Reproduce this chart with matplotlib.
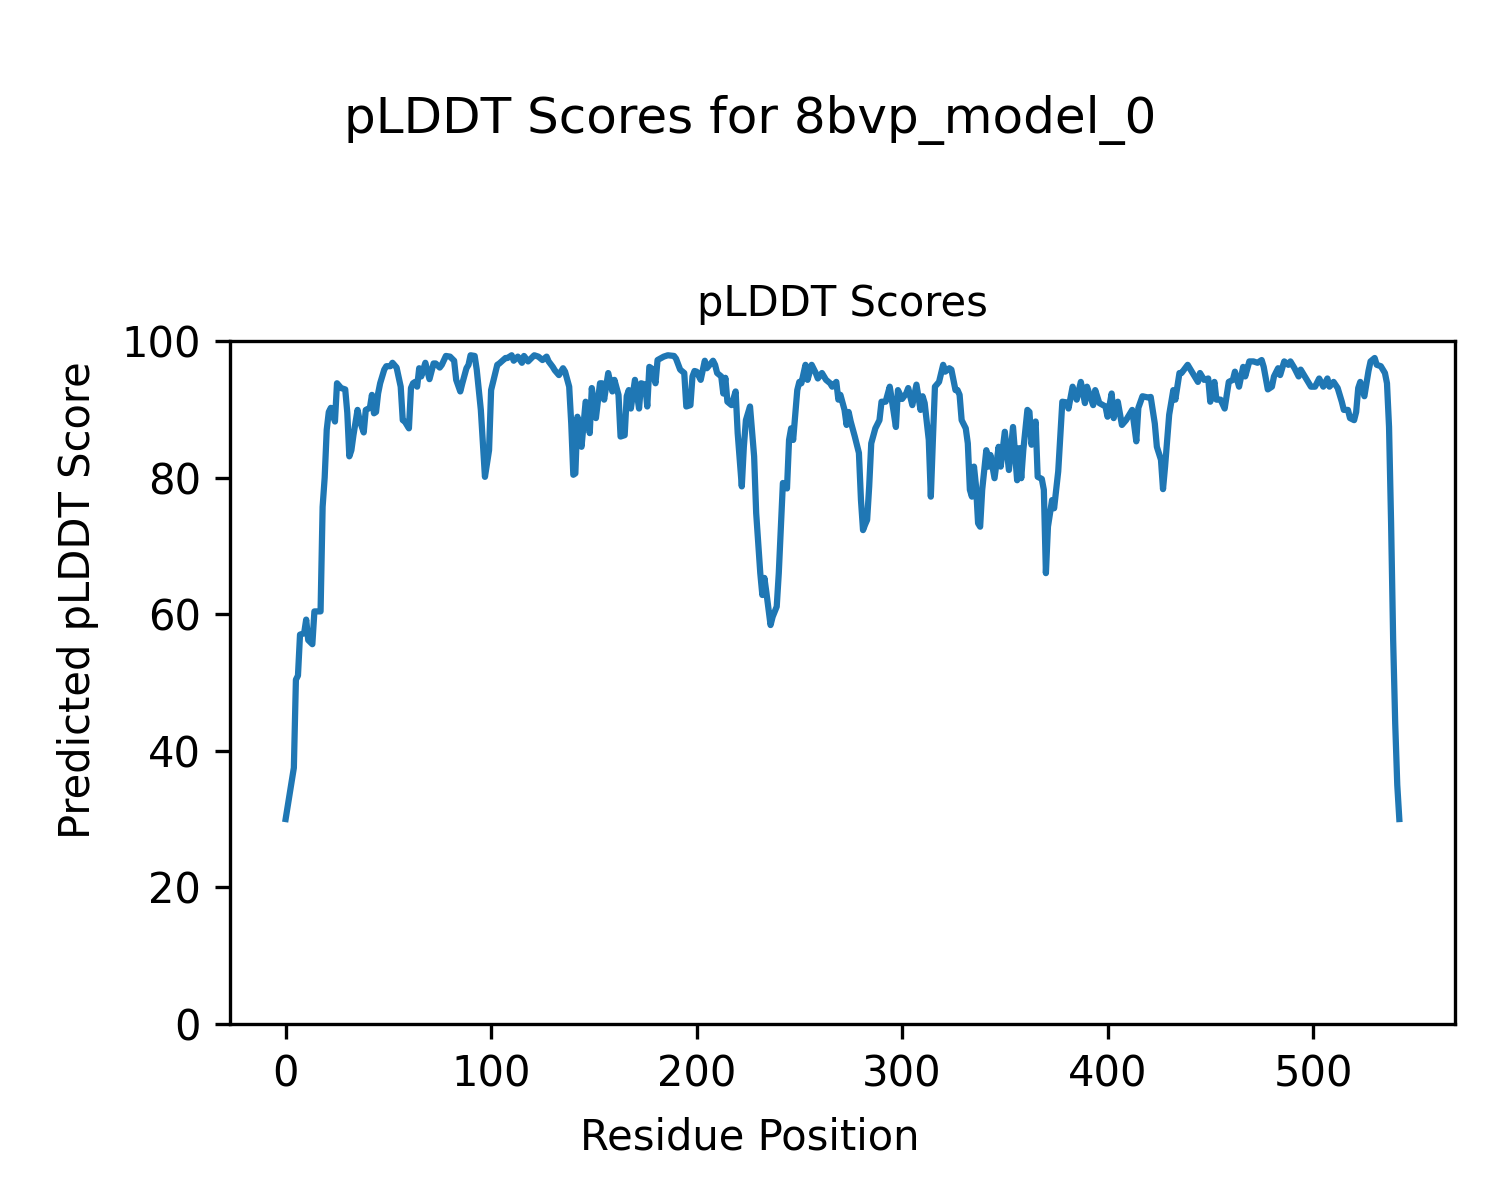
import matplotlib
matplotlib.use("Agg")
import matplotlib.pyplot as plt

residues = [0, 4, 5, 6, 7, 9, 10, 11, 13, 14, 17, 18, 19, 20, 21, 22, 24, 25, 27, 29,
            30, 31, 32, 33, 35, 36, 38, 39, 41, 42, 43, 44, 45, 46, 48, 49, 51, 52, 54, 56,
            57, 58, 60, 61, 62, 63, 64, 65, 66, 68, 70, 72, 73, 75, 76, 78, 80, 82, 83, 85,
            86, 88, 89, 90, 92, 93, 95, 97, 98, 99, 100, 103, 104, 107, 108, 110, 111, 113, 115, 116,
            118, 121, 123, 125, 127, 128, 130, 131, 133, 135, 136, 138, 139, 140, 141, 142, 143, 144, 146, 147,
            148, 149, 151, 153, 154, 155, 157, 159, 160, 162, 163, 165, 166, 167, 168, 170, 172, 173, 175, 176,
            177, 178, 180, 181, 184, 186, 189, 190, 192, 194, 195, 197, 198, 199, 200, 202, 204, 205, 208, 209,
            210, 212, 213, 214, 215, 217, 219, 220, 222, 223, 224, 226, 228, 229, 231, 232, 233, 234, 236, 237,
            239, 240, 242, 244, 245, 246, 247, 249, 250, 251, 253, 254, 256, 258, 259, 261, 263, 265, 266, 268,
            269, 270, 272, 273, 274, 275, 277, 279, 280, 281, 282, 283, 284, 285, 287, 289, 290, 292, 294, 295,
            297, 298, 300, 302, 303, 305, 307, 309, 310, 311, 313, 314, 315, 316, 318, 320, 321, 323, 324, 326,
            327, 328, 329, 331, 332, 333, 334, 335, 336, 337, 338, 339, 341, 342, 343, 345, 347, 348, 350, 352,
            354, 356, 357, 358, 359, 361, 362, 363, 365, 366, 368, 369, 370, 371, 373, 374, 376, 378, 380, 381,
            383, 385, 387, 389, 390, 393, 394, 396, 399, 400, 402, 403, 405, 407, 409, 411, 412, 414, 415, 417,
            420, 421, 423, 424, 426, 427, 428, 430, 432, 433, 435, 436, 439, 441, 442, 444, 445, 447, 449, 450,
            452, 453, 455, 457, 459, 461, 462, 464, 466, 467, 469, 471, 473, 475, 476, 478, 480, 481, 483, 484,
            486, 488, 489, 491, 493, 494, 497, 499, 501, 503, 505, 507, 508, 510, 512, 514, 515, 517, 518, 520,
            521, 522, 523, 525, 527, 528, 530, 531, 533, 535, 536, 537, 538, 539, 540, 541, 542]

plddt = [30.0, 37.5, 50.4, 51.0, 57.0, 57.2, 59.2, 56.2, 55.6, 60.4, 60.4, 75.7, 80.0, 87.0, 89.6, 90.2, 88.2, 93.8, 93.1, 92.9,
         89.5, 83.1, 84.0, 86.2, 89.9, 88.4, 86.6, 89.9, 90.2, 92.1, 89.4, 89.6, 92.3, 93.8, 95.8, 96.3, 96.3, 96.8, 96.1, 93.3,
         88.4, 88.2, 87.2, 93.1, 93.8, 94.0, 93.3, 96.0, 94.8, 96.8, 94.4, 96.7, 96.7, 96.1, 96.5, 97.8, 97.7, 97.1, 94.3, 92.6,
         93.8, 96.0, 96.5, 97.9, 97.8, 95.8, 89.9, 80.1, 82.0, 84.0, 92.8, 96.5, 96.7, 97.5, 97.5, 97.9, 97.1, 97.7, 96.8, 97.8,
         97.0, 97.9, 97.7, 97.2, 97.7, 97.0, 96.2, 95.7, 95.0, 96.0, 95.5, 93.3, 87.9, 80.4, 80.6, 88.9, 86.0, 84.5, 91.1, 90.5,
         86.5, 93.1, 88.7, 93.8, 93.8, 91.4, 95.3, 92.6, 94.3, 92.1, 86.0, 86.2, 91.9, 92.8, 90.1, 94.3, 90.1, 93.8, 93.6, 90.4,
         96.2, 96.0, 93.8, 97.2, 97.7, 97.9, 97.8, 97.4, 95.8, 95.3, 90.4, 90.6, 94.8, 95.6, 95.5, 94.3, 97.1, 96.0, 97.1, 96.5,
         95.3, 94.8, 92.3, 94.6, 91.1, 90.6, 92.6, 86.5, 78.7, 84.5, 88.4, 90.4, 83.1, 74.8, 66.0, 62.8, 65.3, 63.1, 58.4, 59.6,
         61.1, 66.0, 79.2, 78.4, 85.5, 87.2, 85.5, 92.8, 94.0, 93.8, 96.5, 94.3, 96.5, 95.3, 94.5, 95.3, 94.3, 93.8, 93.3, 94.0,
         91.4, 92.1, 89.9, 87.7, 89.6, 88.2, 86.0, 83.6, 76.7, 72.3, 73.1, 73.8, 78.7, 85.0, 87.2, 88.4, 91.1, 91.1, 93.3, 91.4,
         87.4, 92.8, 91.5, 92.3, 93.1, 90.6, 93.6, 89.9, 91.9, 90.9, 85.5, 77.2, 85.5, 93.3, 94.0, 96.5, 95.5, 96.0, 95.8, 92.8,
         92.8, 92.1, 88.4, 87.2, 85.0, 78.2, 77.2, 81.6, 78.7, 73.3, 72.8, 78.2, 84.0, 81.6, 83.3, 79.9, 84.5, 81.6, 86.7, 81.1,
         87.4, 79.6, 84.3, 79.9, 84.0, 89.9, 89.6, 84.8, 88.2, 80.1, 79.8, 78.2, 66.0, 72.8, 76.7, 75.5, 80.9, 91.1, 91.0, 90.1,
         93.3, 91.4, 94.0, 90.9, 93.3, 90.6, 92.8, 90.9, 90.4, 88.9, 92.3, 88.7, 91.1, 87.7, 88.4, 89.4, 89.9, 85.3, 90.2, 91.9,
         91.7, 91.8, 87.9, 84.5, 82.6, 78.3, 81.6, 89.2, 92.8, 91.4, 95.3, 95.3, 96.5, 95.5, 95.0, 94.0, 95.3, 94.3, 94.5, 91.1,
         94.0, 91.4, 91.4, 90.1, 94.0, 94.3, 95.5, 93.3, 96.2, 94.8, 97.0, 97.0, 96.8, 97.2, 96.2, 92.9, 93.3, 94.8, 96.0, 95.0,
         97.0, 96.5, 97.0, 96.0, 94.8, 95.8, 94.3, 93.3, 93.3, 94.5, 93.3, 94.5, 93.3, 94.0, 93.1, 91.1, 89.9, 89.9, 88.7, 88.4,
         89.6, 93.1, 94.0, 91.9, 95.6, 97.0, 97.5, 96.5, 96.3, 95.3, 93.8, 87.4, 73.3, 56.2, 44.0, 35.0, 30.0]

fig = plt.figure(figsize=(5, 4), dpi=300)
ax = fig.add_axes([0.1533, 0.1467, 0.8167, 0.5692])
ax.plot(residues, plddt, color="#1f77b4", linewidth=1.5)
ax.set_ylim(0, 100)
ax.set_title("pLDDT Scores", fontsize=10)
fig.supxlabel("Residue Position", fontsize=10, x=0.5, y=0.052, va="center")
fig.supylabel("Predicted pLDDT Score", fontsize=10, x=0.052, y=0.5, ha="center")
fig.suptitle("pLDDT Scores for 8bvp_model_0", fontsize=12, y=0.9, va="center")
fig.savefig("out.png", dpi=300)
